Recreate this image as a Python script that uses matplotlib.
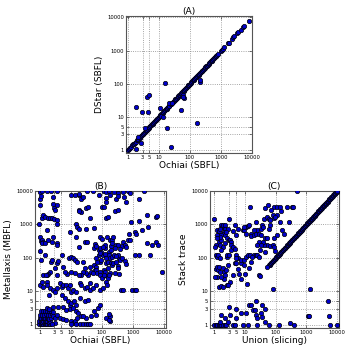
import matplotlib
matplotlib.use("Agg")
import matplotlib.pyplot as plt
from matplotlib.ticker import FixedLocator, FixedFormatter, NullLocator

# ---------------- data ----------------
tick_values = [1, 3, 5, 10, 100, 1000, 10000]
tick_labels = ["1", "3", "5", "10", "100", "1000", "10000"]

# Panel A: Ochiai (SBFL) vs DStar (SBFL)
a_diag = [1, 1.1, 1.2, 1.3, 1.4, 1.5, 1.6, 1.7, 1.8, 2, 2.1, 2.2, 2.4, 2.5, 2.7, 2.8,
          3, 3.2, 3.4, 3.6, 3.8, 4, 4.2, 4.5, 4.7, 5, 5.3, 5.6, 6, 6.3, 6.7, 7, 7.5,
          8, 8.4, 9, 9.5, 10, 10.6, 11.2, 12, 12.6, 13.3, 14, 15, 16, 17, 18, 19, 20,
          21, 22, 24, 25, 27, 28, 30, 32, 34, 36, 38, 40, 42, 45, 47, 50, 53, 56, 60,
          63, 67, 70, 75, 80, 84, 90, 95, 100, 106, 112, 120, 126, 133, 140, 150, 160,
          170, 180, 190, 200, 212, 224, 238, 250, 265, 280, 300, 315, 335, 355, 375,
          400, 420, 450, 475, 500, 530, 560, 600, 630, 670, 710, 750, 800,
          1000, 1060, 1150, 1250, 1650, 1750, 2300, 2500, 2700, 3300, 3600, 4300,
          5200, 5600, 8000]
a_out_ochiai = [1.85, 2.8, 4.6, 4.25, 4.9, 15.6, 10.7, 18.5, 24, 22, 27, 53, 64, 57,
                166, 204, 219, 1.85, 2.6, 2.1, 11.6, 13.7, 3.6, 60, 62]
a_out_dstar = [20, 14, 14, 40, 47, 105, 19, 4.7, 1.26, 26, 26, 16.6, 37, 42,
               6.6, 117, 126, 1.12, 1.66, 2.6, 10.5, 10, 4.8, 45, 40]

# Panel B: Ochiai (SBFL) vs Metallaxis (MBFL)
b_ochiai = [
    1.05, 1.22, 1.72, 2.25, 3.7, 10.6, 18.7, 34, 54, 118, 134, 167, 255, 340, 500, 700, 790, 2400,
    1.03, 1.1, 2.74, 18.7, 80, 141, 180, 294, 347, 530, 1650, 13.6, 21, 25,
    1.03, 2.74, 3.0, 3.7, 18.3, 21.7, 32, 36, 101, 118, 141, 274, 347, 1.16, 1.31, 1.48,
    1.8, 2.15, 3.1, 18.7, 2850, 5700, 6100, 630,
    0.98, 1.68, 2.43, 2.9, 3.7, 3.7, 14.6, 16.5, 43, 18.3, 57, 32, 134, 163, 910, 1650, 3050, 1950,
    1.03, 1.13, 1.19, 1.25, 1.19, 1.45, 1.9, 2.43, 2.74, 3.7, 3.7, 9.4, 15.4, 18.3, 30, 34,
    60, 86, 101, 148, 180, 214, 236, 294, 330, 475, 700, 830, 455, 570, 1150, 1290, 770,
    3000, 4200, 5700, 6600, 124, 171, 127, 82, 86, 58, 67, 110, 194, 262, 395, 590, 220, 204,
    1.05, 1.1, 1.52, 2.37, 2.55, 3.7, 4.0, 5.2, 8.7, 10.6, 12, 13.6, 16.1, 25, 30, 41, 57, 67,
    82, 86, 97, 110, 127, 134, 141, 163, 171, 194, 220, 230, 282, 325, 355, 395, 455, 560, 610,
    180, 209, 242, 347, 288, 97, 86, 67, 73, 60, 46, 36, 53, 32, 25, 22, 18.7, 14.3, 10.4, 7.9,
    6.6, 5.7, 3.1, 2.15, 1.9, 1.31, 1.68, 3.7, 67, 71, 90, 116, 130, 159, 180, 110, 148, 86, 99,
    116, 134, 163, 347, 274, 365, 1150, 1650, 3700, 8800, 950, 1150, 1290, 425, 167,
    1.03, 1.16, 1.31, 1.6, 1.68, 1.76, 2.15, 2.04, 2.74, 3.1, 3.7, 4.5, 5.1, 5.7, 7.3, 8.3, 9.4,
    10.1, 12, 15.4, 19.7, 22.2, 28, 34, 41, 53, 67, 86, 110, 148, 41, 5.1, 6.5, 8.3, 9.4, 10.6,
    12.6, 15.4, 19.7, 28, 36, 57, 67, 76, 86, 2.74, 4.0, 5.7, 7.3, 9.4, 12, 15.4, 17.4, 22.2, 32,
    46, 134, 180, 190, 475, 170, 175,
    0.98, 1.08, 1.19, 1.31, 1.45, 1.6, 1.76, 1.94, 2.15, 0.98, 1.08, 1.19, 1.31, 1.45, 1.6, 1.76,
    1.94, 2.15, 1.03, 1.13, 1.25, 1.38, 1.52, 1.68, 1.85, 2.04, 2.25, 1.03, 1.19, 1.38, 1.6, 1.85,
    2.15, 2.49, 1.13, 1.31, 1.52, 1.76, 2.04, 2.37, 1.68, 1.94, 2.6, 2.74, 3.1, 3.5, 4.5, 5.7, 7.3,
    10.6, 12, 13.6, 15.4, 19.7, 25, 32, 36, 43, 10.6, 16.1, 25, 3.1, 2.43]
b_metallaxis = [
    9400, 9800, 9800, 9800, 9800, 7400, 7400, 9800, 9800, 9800, 9400, 9800, 9400, 8900, 9400, 9800, 8900, 10000,
    5900, 7100, 6600, 8100, 7800, 6200, 7800, 5900, 7100, 6600, 5700, 7400, 5700, 6600,
    3750, 4200, 3000, 3750, 2700, 2400, 3000, 3350, 3200, 3350, 4700, 2550, 2700, 1500, 1900, 1700,
    1500, 1500, 2700, 2500, 1900, 1700, 1800, 4700,
    1050, 670, 1500, 1450, 1350, 1050, 1000, 850, 1500, 750, 790, 750, 1500, 1700, 1200, 1250, 850, 670,
    420, 315, 340, 300, 270, 270, 340, 300, 420, 270, 240, 600, 420, 210, 300, 300,
    250, 420, 360, 420, 340, 340, 420, 240, 240, 300, 350, 340, 220, 240, 600, 500, 530,
    270, 240, 300, 240, 190, 150, 240, 170, 190, 200, 220, 210, 230, 200, 180, 210, 270, 170,
    160, 85, 120, 76, 85, 68, 80, 120, 96, 108, 96, 85, 72, 72, 48, 54, 60, 54,
    120, 76, 85, 120, 132, 96, 68, 76, 120, 68, 60, 68, 76, 58, 96, 85, 96, 80, 63,
    96, 108, 120, 120, 110, 150, 135, 96, 72, 43, 38, 30, 34, 34, 38, 30, 30, 34, 38, 32,
    38, 54, 48, 38, 32, 30, 30, 30, 43, 34, 38, 43, 38, 48, 34, 29, 28, 30, 24,
    30, 19, 24, 48, 34, 32, 120, 120, 120, 38, 10.8, 10.8, 10.8, 10.8, 30,
    15, 19, 13.6, 30, 19, 15, 12, 7.7, 10.8, 9.7, 12.7, 17, 13.6, 15, 15, 12, 15,
    9.7, 10.8, 9.7, 17, 15, 12, 13.6, 10.8, 12, 15, 10.8, 12, 15, 17, 7.7, 6.1, 4.9, 3.9, 4.3,
    4.9, 3.9, 6.1, 4.9, 5.5, 2.45, 1.95, 3.1, 3.9, 3.4, 3.4, 3.4, 2.7, 2.9, 3.1, 2.45, 2.2, 1.75, 1.55,
    1.75, 1.55, 1.75, 1.23, 10.8, 2.0, 1.4,
    1, 1, 1, 1, 1, 1, 1, 1, 1, 1.23, 1.23, 1.17, 1.3, 1.23, 1.23, 1.23,
    1.17, 1.23, 1.55, 1.55, 1.55, 1.55, 1.6, 1.55, 1.55, 1.5, 1.55, 1.95, 1.95, 1.95, 2.0, 1.95,
    1.95, 2.0, 2.45, 2.45, 2.45, 2.45, 2.45, 2.45, 3.1, 2.9, 2.3, 1.75, 1.55, 1.95, 1.55, 1.5, 1.4,
    1.23, 1.1, 1.23, 1, 1, 1, 1, 1, 1, 1, 1.55, 1.75, 1.1, 1.02]

# Panel C: Union (slicing) vs Stack trace
c_diag = [60, 63, 66, 69, 72, 75, 79, 83, 87, 91, 95, 100, 105, 110, 115, 120, 126, 132,
          138, 145, 152, 160, 168, 176, 185, 194, 204, 214, 225, 236, 248, 260, 273, 287,
          301, 316, 332, 348, 366, 384, 403, 423, 444, 466, 490, 514, 540, 567, 595, 625,
          656, 689, 723, 759, 797, 837, 879, 923, 969, 1017, 1068, 1121, 1177, 1236, 1298,
          1363, 1431, 1503, 1578, 1657, 1740, 1827, 1918, 2014, 2115, 2220, 2331, 2448,
          2570, 2699, 2834, 2975, 3124, 3280, 3444, 3617, 3797, 3987, 4187, 4396, 4616,
          4847, 5089, 5344, 5611, 5891, 6186, 6495, 6820, 7161, 7519, 7895, 8290, 8704,
          9140, 9597, 10000]
c_union = [
    0.98, 1.25, 1.31, 1.38, 1.41, 1.16, 1.03, 1.08, 1.25, 1.31, 1.48, 1.56, 1.6, 1.68, 1.76,
    1.9, 2.15, 2.25, 2.04, 1.9, 1.68, 1.48, 1.25, 1.19, 1.45, 1.52, 2.15, 2.6, 2.9, 3.1, 3.5,
    3.35, 3.0, 2.74, 2.43, 2.15, 1.9, 1.68, 1.13, 1.19, 1.31, 1.38, 1.48, 1.9, 2.04, 2.15,
    2.04, 1.68, 1.22, 1.03, 1.41, 1.68, 1.9, 2.6, 2.74, 2.43, 2.6, 2.6, 2.95, 3.5, 4.0, 4.5,
    5.1, 5.7, 7.3, 9.4, 10.1, 13.6, 15.4, 19.7, 22.2, 25, 28, 30, 46, 53, 67, 78, 86, 97,
    4.5, 5.1, 7.3, 9.4, 10.6, 12, 14.6, 16.8, 6.5, 7.3, 11.4, 28, 30, 53, 4.0, 4.5, 5.1, 5.7,
    8.3, 9.4, 10.6, 12, 13.6, 14.6, 15.4, 16.1, 19.7, 22.2, 25, 28, 28, 32, 36, 39, 41, 44,
    53, 60, 67, 78, 86, 110, 134, 155, 180, 60, 67, 97, 110, 41, 39, 46, 34, 53, 19.7, 22.2,
    25, 32, 86, 110, 141, 230, 330, 355, 57, 71, 148, 262, 86, 9.4, 10.6, 5.1, 5.7, 4.0, 3.1,
    2.74,
    480, 78, 1300,
    1.0, 1.1, 1.25, 1.38, 1.52, 1.68, 1.9, 2.15, 2.43, 1.68, 1.56, 2.15, 2.74, 4.0, 4.5, 5.1,
    8.3, 7.3, 10.6, 18.7, 21, 22.2, 25, 32, 36, 46, 60, 124, 294, 380, 1100, 1250, 5000, 5500,
    6000, 9800, 12, 25, 3.0, 3.3, 5.0, 13, 16, 23, 35, 45]
c_stack = [
    1500, 670, 480, 380, 300, 240, 210, 120, 108, 120, 100, 240, 340, 950, 850,
    950, 950, 750, 600, 530, 480, 420, 500, 380, 620, 750, 500, 380, 340, 340, 300,
    240, 1500, 750, 600, 270, 210, 170, 48, 54, 43, 54, 38, 50, 38, 30,
    24, 27, 27, 27, 13.6, 14, 13.6, 15, 60, 43, 108, 120, 125, 170, 210, 190,
    120, 96, 72, 60, 34, 50, 76, 120, 125, 120, 108, 170, 150, 240, 230, 240, 210, 160,
    68, 96, 85, 85, 108, 120, 120, 108, 34, 24, 17, 30, 29, 54, 620, 950, 500, 750,
    670, 670, 850, 900, 950, 3350, 530, 450, 480, 530, 670, 530, 300, 750, 950, 850, 1450, 3000,
    1700, 1500, 1350, 1900, 1600, 1900, 1200, 670, 530, 750, 950, 1700, 480, 240, 300, 380, 240, 380, 670, 1200,
    240, 480, 3350, 3350, 3350, 3350, 3350, 3350, 3750, 2700, 2500, 1200, 380, 850, 530, 68, 48, 30, 19,
    15,
    10000, 12, 12,
    1, 1, 1, 1, 1, 1, 1, 1, 1, 1.95, 1.23, 1.55, 1.23, 1, 1, 1.55,
    1, 2.2, 2.2, 2.85, 2.7, 1.95, 1.55, 2.2, 1.75, 1.23, 1, 1, 1.1, 1, 1.8, 1.8, 5, 1.8,
    1, 1, 1, 1, 3.3, 2.0, 3.0, 4.0, 4.0, 5.0, 4.0, 3.0]

# ---------------- drawing ----------------
plt.rcParams['font.family'] = ['DejaVu Sans']
fig = plt.figure(figsize=(3.54, 3.55), dpi=100)

axA = fig.add_axes([0.356, 0.569, 0.356, 0.386])
axB = fig.add_axes([0.099, 0.076, 0.370, 0.386])
axC = fig.add_axes([0.593, 0.076, 0.364, 0.386])

mk = dict(s=10, c='#0000cc', edgecolors='black', linewidths=0.5, zorder=3)

axA.scatter(a_diag, a_diag, **mk)
axA.scatter(a_out_ochiai, a_out_dstar, **mk)
axB.scatter(b_ochiai, b_metallaxis, **mk)
axC.scatter(c_diag, c_diag, **mk)
axC.scatter(c_union, c_stack, **mk)

limits = {
    'A': ((0.88, 10000), (0.83, 11000)),
    'B': ((0.71, 11900), (0.78, 10000)),
    'C': ((0.71, 11300), (0.80, 10000)),
}
labels = {
    'A': ("Ochiai (SBFL)", "DStar (SBFL)", "(A)"),
    'B': ("Ochiai (SBFL)", "Metallaxis (MBFL)", "(B)"),
    'C': ("Union (slicing)", "Stack trace", "(C)"),
}
for key, ax in (('A', axA), ('B', axB), ('C', axC)):
    ax.set_xscale('log')
    ax.set_yscale('log')
    ax.set_xlim(*limits[key][0])
    ax.set_ylim(*limits[key][1])
    for axis in (ax.xaxis, ax.yaxis):
        axis.set_major_locator(FixedLocator(tick_values))
        axis.set_major_formatter(FixedFormatter(tick_labels))
        axis.set_minor_locator(NullLocator())
    ax.tick_params(which='major', direction='in', length=2.5, width=0.5,
                   labelsize=3.8, pad=1.5, top=True, right=True, color='#444444')
    ax.grid(True, which='major', linestyle=':', linewidth=0.6, color='#888888', zorder=0)
    ax.set_axisbelow(True)
    for sp in ax.spines.values():
        sp.set_linewidth(0.8)
        sp.set_color('#555555')
    xl, yl, tt = labels[key]
    ax.set_xlabel(xl, fontsize=6.5, labelpad=1)
    ax.set_ylabel(yl, fontsize=6.5, labelpad=2)
    ax.set_title(tt, fontsize=6.6, pad=1.5)

fig.savefig("out.png", dpi=100)
